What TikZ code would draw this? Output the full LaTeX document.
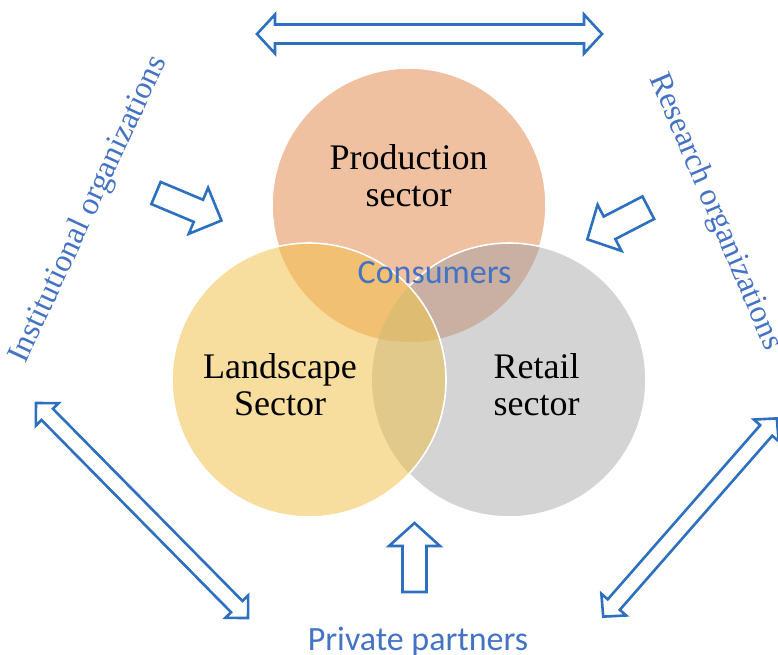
\documentclass[tikz,border=0pt]{standalone}
\usepackage{fontspec}
\setmainfont{Liberation Serif}
\newfontfamily\serifA{Liberation Serif}
\newfontfamily\calib{Carlito}
\definecolor{arrowblue}{RGB}{46,112,192}
\definecolor{textblue}{RGB}{68,114,196}
\definecolor{prodc}{RGB}{239,193,161}
\definecolor{landc}{RGB}{248,222,158}
\definecolor{retc}{RGB}{212,212,212}
\definecolor{plc}{RGB}{242,192,114}
\definecolor{prc}{RGB}{201,176,162}
\definecolor{lrc}{RGB}{225,201,139}
\definecolor{plrc}{RGB}{222,188,114}
\newcommand\dblarrow[7]{% cx,cy,angle,L,h,w,s
 \begin{scope}[shift={(#1,#2)},rotate=#3]
 \draw[blockarrow] ({-#4/2},0) -- ({-#4/2+#5},#6) -- ({-#4/2+#5},#7) -- ({#4/2-#5},#7) -- ({#4/2-#5},#6) -- ({#4/2},0) -- ({#4/2-#5},-#6) -- ({#4/2-#5},-#7) -- ({-#4/2+#5},-#7) -- ({-#4/2+#5},-#6) -- cycle;
 \end{scope}}
\newcommand\sglarrow[7]{% tailx,taily,angle,L,h,w,s
 \begin{scope}[shift={(#1,#2)},rotate=#3]
 \draw[blockarrow] (0,#7) -- ({#4-#5},#7) -- ({#4-#5},#6) -- (#4,0) -- ({#4-#5},-#6) -- ({#4-#5},-#7) -- (0,-#7) -- cycle;
 \end{scope}}
\begin{document}
\begin{tikzpicture}[x=1pt,y=-1pt,
  blockarrow/.style={draw=arrowblue,line width=2.6pt,fill=white,line join=miter},
  ring/.style={draw=white,line width=1.6pt},
  sectorlabel/.style={align=center,font=\serifA\fontsize{36}{37}\selectfont,text=black,inner sep=0pt},
  sidelabel/.style={text=textblue,font=\serifA\fontsize{32}{36}\selectfont,inner sep=0pt},
  sanslabel/.style={text=textblue,font=\calib\fontsize{34}{40}\selectfont,inner sep=0pt}]
\useasboundingbox (0,0) rectangle (778,654);
\coordinate (P) at (409,205);
\coordinate (L) at (309,380);
\coordinate (R) at (509,380);
\def\rad{137pt}
% production
\fill[prodc] (P) circle[radius=\rad];
\draw[ring] (P) circle[radius=\rad];
% retail
\fill[retc] (R) circle[radius=\rad];
\begin{scope}
 \clip (P) circle[radius=\rad];
 \fill[prc] (R) circle[radius=\rad];
\end{scope}
\draw[ring] (R) circle[radius=\rad];
% landscape
\fill[landc] (L) circle[radius=\rad];
\begin{scope}
 \clip (L) circle[radius=\rad];
 \fill[plc] (P) circle[radius=\rad];
 \fill[lrc] (R) circle[radius=\rad];
 \clip (P) circle[radius=\rad];
 \fill[plrc] (R) circle[radius=\rad];
\end{scope}
\draw[ring] (L) circle[radius=\rad];
% labels
\node[sectorlabel] (prodlab) at (408.5,176) {Production\\sector};
\node[sectorlabel] (landlab) at (280,385) {Landscape\\Sector};
\node[sectorlabel] (retlab) at (536.5,385) {Retail\\sector};
\node[sanslabel,anchor=base] (cons) at (434.5,283) {Consumers};
\node[sanslabel,anchor=base] (priv) at (418,650) {Private partners};
\node[sidelabel,rotate=65] (inst) at (89,210) {Institutional organizations};
\node[sidelabel,rotate=-67] (res) at (715,212) {Research organizations};
% block arrows
\dblarrow{429.5}{34}{0}{345}{18}{19.5}{9.5}
\dblarrow{142}{510.5}{-45.4}{302}{16}{16}{8}
\dblarrow{690}{517.5}{48.8}{263.5}{16}{16.5}{8}
\sglarrow{414.5}{592}{90}{69}{23}{25.5}{12}
\sglarrow{156}{193}{-22.8}{71}{25}{25}{12}
\sglarrow{648.3}{207.7}{207.4}{68.7}{25}{26}{12.7}
\end{tikzpicture}
\end{document}
